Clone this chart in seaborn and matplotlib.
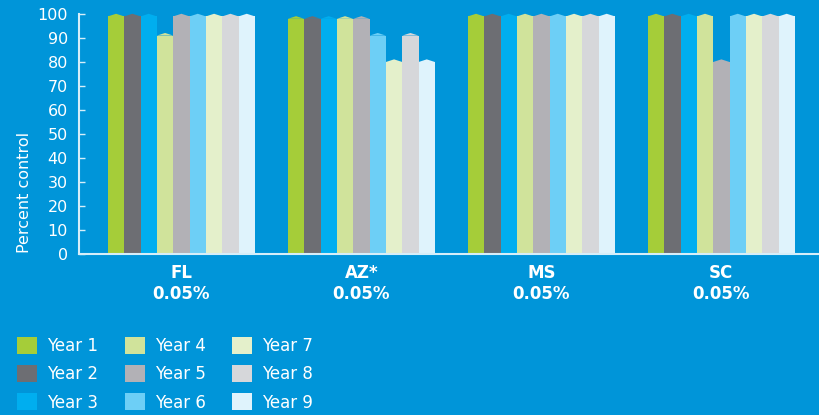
import pandas as pd
import matplotlib.pyplot as plt
import seaborn as sns
from matplotlib.patches import Polygon, Patch

sites = ["FL\n0.05%", "AZ*\n0.05%", "MS\n0.05%", "SC\n0.05%"]
years = ["Year 1", "Year 2", "Year 3", "Year 4", "Year 5", "Year 6", "Year 7", "Year 8", "Year 9"]
fl = [99, 99, 99, 91, 99, 99, 99, 99, 99]
az = [98, 98, 98, 98, 98, 91, 80, 91, 80]
ms = [99, 99, 99, 99, 99, 99, 99, 99, 99]
sc = [99, 99, 99, 99, 80, 99, 99, 99, 99]
colors = ["#a5cd39", "#6d6e73", "#00aeef", "#d0e39b", "#b2b1b6",
          "#6dcff6", "#e4f0cb", "#d6d7da", "#dff3fc"]

bg = "#0095d9"
axis_col = "#d6eef9"

rows = []
for site, vals in zip(sites, [fl, az, ms, sc]):
    for yr, v in zip(years, vals):
        rows.append({"site": site, "year": yr, "value": v})
df = pd.DataFrame(rows)

plt.rcParams['font.family'] = ['DejaVu Sans']

fig = plt.figure(figsize=(8.2, 4.15), dpi=100, facecolor=bg)
ax = fig.add_axes([79 / 820, 1 - 254 / 415, 741 / 820, 240 / 415])
ax.set_facecolor(bg)

sns.barplot(data=df, x="site", y="value", hue="year", palette=colors,
            width=0.817, saturation=1, gap=0, ax=ax, legend=False,
            errorbar=None, linewidth=0)

# pointed caps on top of each bar
for p in list(ax.patches):
    x0, w, h = p.get_x(), p.get_width(), p.get_height()
    if h <= 0:
        continue
    cap = Polygon([(x0, h), (x0 + w / 2, h + 1.1), (x0 + w, h)],
                  closed=True, facecolor=p.get_facecolor(), linewidth=0,
                  clip_on=False)
    ax.add_patch(cap)

ax.set_ylim(0, 100)
ax.set_xlim(-0.569, 3.548)
ax.set_yticks(range(0, 101, 10))
ax.set_xlabel("")
ax.set_ylabel("Percent control", color="white", fontsize=11.5)
ax.yaxis.set_label_coords(-0.064, 0.255)

for s in ["top", "right"]:
    ax.spines[s].set_visible(False)
for s in ["left", "bottom"]:
    ax.spines[s].set_color(axis_col)
    ax.spines[s].set_linewidth(1.5)

ax.tick_params(axis="y", direction="in", length=4, width=1, color=axis_col,
               labelcolor="white", labelsize=11.5, pad=8)
ax.tick_params(axis="x", length=0, labelcolor="white", labelsize=12, pad=7)
for lbl in ax.get_xticklabels():
    lbl.set_fontweight("bold")
    lbl.set_linespacing(1.2)

handles = [Patch(facecolor=c, edgecolor="none", label=y) for c, y in zip(colors, years)]
fig.legend(handles=handles, ncol=3, loc="upper left", bbox_to_anchor=(17 / 820, 1 - 337 / 415),
           frameon=False, fontsize=12, labelcolor="white",
           handlelength=1.2, handleheight=1.2, handletextpad=0.6,
           labelspacing=0.6, columnspacing=1.6, borderaxespad=0, borderpad=0)

fig.savefig("out.png", dpi=100, facecolor=bg)
